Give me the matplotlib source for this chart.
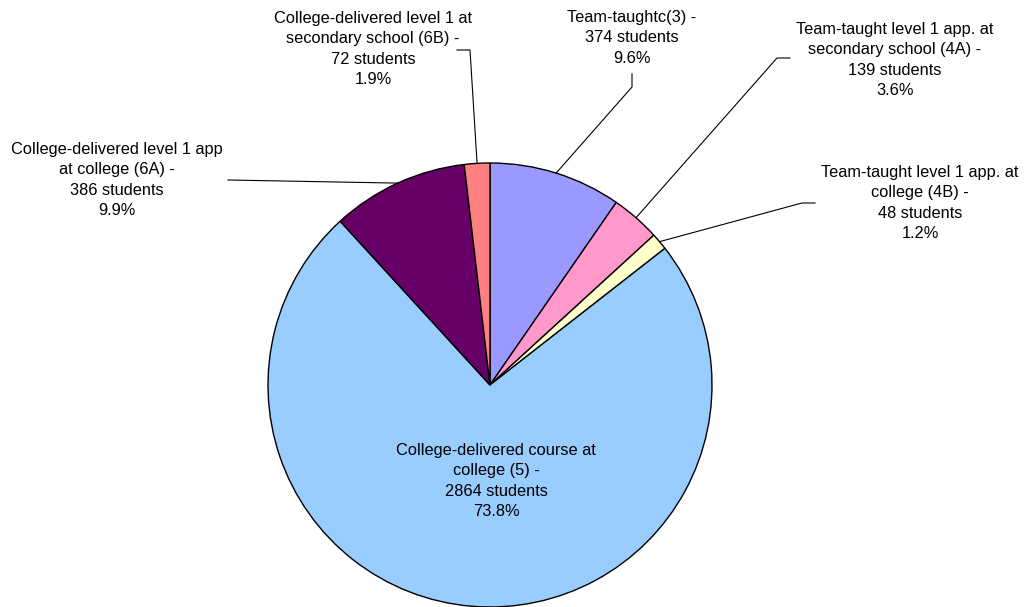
import numpy as np
import matplotlib
matplotlib.use("Agg")
import matplotlib.pyplot as plt

categories = [
    "Team-taughtc(3)",
    "Team-taught level 1 app. at\nsecondary school (4A)",
    "Team-taught level 1 app. at\ncollege (4B)",
    "College-delivered course at\ncollege (5)",
    "College-delivered level 1 app\nat college (6A)",
    "College-delivered level 1 at\nsecondary school (6B)",
]
students = [374, 139, 48, 2864, 386, 72]
percents = ["9.6%", "3.6%", "1.2%", "73.8%", "9.9%", "1.9%"]
colors = ["#9999FF", "#FF99CC", "#FFFFCC", "#99CCFF", "#660066", "#FF8080"]

W, H = 1026, 607
fig = plt.figure(figsize=(W / 100, H / 100), dpi=100)
ax = fig.add_axes([0, 0, 1, 1])

cx, cy, R = 490, 385, 222

def Y(y):
    return H - y

wedges, _ = ax.pie(students, colors=colors, startangle=90, counterclock=False,
                   center=(cx, Y(cy)), radius=R,
                   wedgeprops=dict(edgecolor="black", linewidth=1.0))
ax.set_xlim(0, W)
ax.set_ylim(0, H)
ax.set_aspect("equal")
ax.axis("off")

# label layout: (text center x, text center y, bend points) in top-down pixels
layout = [
    (632, 38, [(632, 74), (632, 87)]),
    (895, 60, [(790, 58), (777, 58)]),
    (920, 203, [(815, 203), (802, 203)]),
    (496, 481, None),
    (117, 180, [(228, 180)]),
    (373, 49, [(457, 50), (470, 50)]),
]

fp = dict(family=["Liberation Sans", "DejaVu Sans"], fontsize=11.8, color="black",
          ha="center", va="center", linespacing=1.45)

for w, cat, n, pct, (tx, ty, bends) in zip(wedges, categories, students, percents, layout):
    label = f"{cat} -\n{n} students\n{pct}"
    ax.text(tx, Y(ty), label, **fp)
    if bends is not None:
        mid = np.deg2rad((w.theta1 + w.theta2) / 2)
        ax_x = cx + R * np.cos(mid)
        ax_y = Y(cy) + R * np.sin(mid)
        xs = [b[0] for b in bends] + [ax_x]
        ys = [Y(b[1]) for b in bends] + [ax_y]
        ax.plot(xs, ys, color="black", linewidth=0.8)

fig.savefig("out.png", dpi=100, facecolor="white")
